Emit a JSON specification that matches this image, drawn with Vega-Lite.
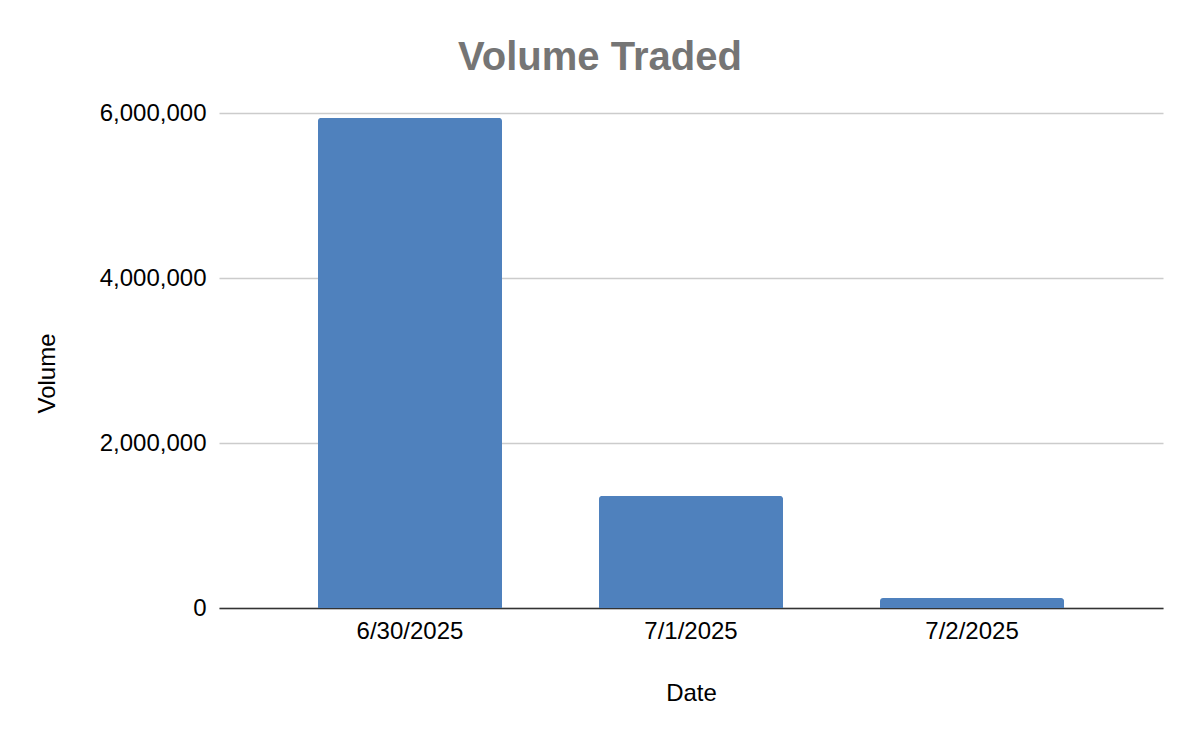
{
  "$schema": "https://vega.github.io/schema/vega-lite/v6.json",
  "description": "Bar chart of daily volume traded.",
  "autosize": {"type": "none"},
  "width": 944,
  "height": 495,
  "padding": {"left": 219, "top": 113, "right": 37, "bottom": 134},
  "background": "#ffffff",
  "title": {
    "text": "Volume Traded",
    "anchor": "middle",
    "dx": -91,
    "offset": -9,
    "baseline": "alphabetic",
    "font": "Liberation Sans",
    "fontSize": 40,
    "fontWeight": "bold",
    "color": "#757575"
  },
  "data": {
    "values": [
      {"Date": "6/30/2025", "Volume": 5940000},
      {"Date": "7/1/2025", "Volume": 1358000},
      {"Date": "7/2/2025", "Volume": 121000}
    ]
  },
  "mark": {
    "type": "bar",
    "color": "#4f81bd",
    "cornerRadiusTopLeft": 3,
    "cornerRadiusTopRight": 3
  },
  "encoding": {
    "x": {
      "field": "Date",
      "type": "ordinal",
      "sort": null,
      "title": "Date",
      "scale": {"paddingInner": 0.345, "paddingOuter": 0.352},
      "axis": {
        "labelAngle": 0,
        "labelFont": "Liberation Sans",
        "labelFontSize": 24,
        "labelColor": "#000000",
        "labelPadding": 11,
        "ticks": false,
        "domainColor": "#333333",
        "domainWidth": 1.5,
        "titleFont": "Liberation Sans",
        "titleFontSize": 24,
        "titleFontWeight": "normal",
        "titleColor": "#000000",
        "titlePadding": 38
      }
    },
    "y": {
      "field": "Volume",
      "type": "quantitative",
      "title": "Volume",
      "scale": {"domain": [0, 6000000], "nice": false},
      "axis": {
        "values": [0, 2000000, 4000000, 6000000],
        "format": ",d",
        "labelFont": "Liberation Sans",
        "labelFontSize": 24,
        "labelColor": "#000000",
        "labelPadding": 13,
        "ticks": false,
        "domain": false,
        "gridColor": "#cccccc",
        "gridWidth": 1.5,
        "titleFont": "Liberation Sans",
        "titleFontSize": 24,
        "titleFontWeight": "normal",
        "titleColor": "#000000",
        "titlePadding": 40,
        "titleY": 260
      }
    }
  },
  "config": {"view": {"stroke": null}}
}
